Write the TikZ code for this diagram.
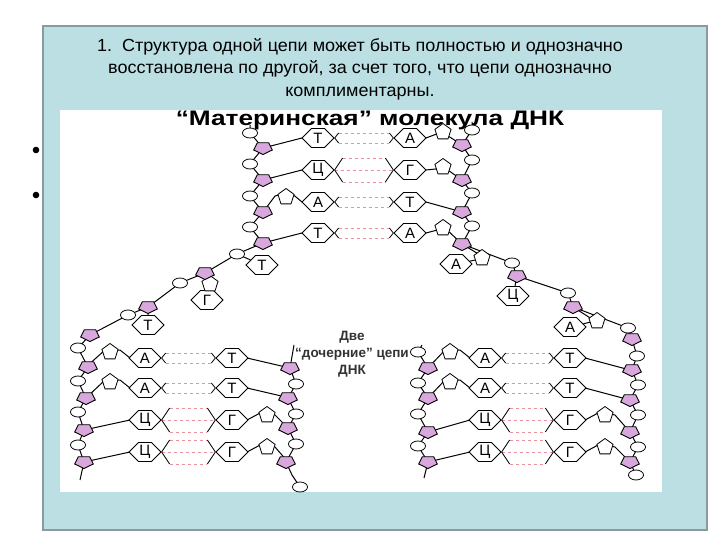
\documentclass[tikz,border=0pt]{standalone}
\usepackage{fontspec}
\setmainfont{Liberation Sans}
\usetikzlibrary{shapes.symbols,shapes.geometric,calc}
\definecolor{slide}{HTML}{BBDFE3}
\definecolor{frame}{HTML}{8A9A9E}
\definecolor{sug}{HTML}{D8A8DC}
\definecolor{hb}{HTML}{E8909E}
\tikzset{
  sugar/.style={regular polygon,regular polygon sides=5,shape border rotate=180,draw,fill=sug,inner sep=0pt,minimum size=13pt,line width=0.9pt,xscale=1.5},
  phos/.style={ellipse,draw,fill=white,inner sep=0pt,minimum width=15pt,minimum height=10pt,line width=0.8pt},
  base/.style={signal,signal to=east and west,draw,fill=white,inner sep=0.5pt,minimum width=32pt,minimum height=19pt,line width=0.9pt,font=\fontsize{15}{15}\selectfont},
  purp/.style={regular polygon,regular polygon sides=5,draw,fill=white,inner sep=0pt,minimum size=17pt,line width=0.8pt},
  bb/.style={line width=1pt},
  hbond/.style={hb,dashed,line width=0.9pt},
}
\newcommand\Bb[1]{\draw[bb] plot coordinates {#1};}
\newcommand\Rung[6]{%
  \node[base] (bl) at (#2,#1) {#4};
  \node[base] (br) at (#3,#1) {#5};
  \ifnum#6=2
    \draw[hbond] ($(bl.east)+(4,-5)$) -- ($(br.west)+(-4,-5)$);
    \draw[hbond] ($(bl.east)+(4,5)$) -- ($(br.west)+(-4,5)$);
    \draw[line width=0.8pt] (bl.east) -- ++(4,-5) (bl.east) -- ++(4,5) (br.west) -- ++(-4,-5) (br.west) -- ++(-4,5);
  \else
    \draw[hbond] ($(bl.east)+(8,-12)$) -- ($(br.west)+(-8,-12)$);
    \draw[hbond] ($(bl.east)+(0,0)$) -- ($(br.west)+(0,0)$);
    \draw[hbond] ($(bl.east)+(8,12)$) -- ($(br.west)+(-8,12)$);
    \draw[line width=0.8pt] (bl.east) -- ++(8,-12) (bl.east) -- ++(8,12) (br.west) -- ++(-8,-12) (br.west) -- ++(-8,12);
  \fi}
\begin{document}
\begin{tikzpicture}[x=1pt,y=-1pt]
\useasboundingbox (0,0) rectangle (720,540);
\fill[white] (0,0) rectangle (720,540);
\draw[frame,fill=slide,line width=1.2pt] (43,26) rectangle (707,530);
\fill[white] (60,110) rectangle (662,492);
\fill (36,150) circle (3.3) (36,195) circle (3.3);
\node[align=center,font=\fontsize{17.5}{22.5}\selectfont,inner sep=0pt,xscale=1.03] (title) at (360,69)
 {1.\ \ Структура одной цепи может быть полностью и однозначно\\ восстановлена по другой, за счет того, что цепи однозначно\\ комплиментарны.};
\begin{scope}
\clip (60,110) rectangle (662,492);
\node[font=\bfseries\fontsize{21}{21}\selectfont,inner sep=0pt,xscale=1.25] (mat) at (370,120) {“Материнская” молекула ДНК};
\end{scope}
\Bb{(250,125) (250,133) (263,148) (250,164) (263,180) (250,196) (263,212) (250,227) (263,243) (237,254) (205,273) (180,283) (148,307) (128,315) (90,335) (78,348) (88,367) (78,381) (86,398) (78,412) (84,430) (78,445) (84,462) (80,480)}
\Bb{(472,122) (472,130) (462,145) (472,160) (462,180) (472,193) (462,212) (472,226) (462,244) (512,263) (517,276) (568,293) (573,307) (628,328) (632,339) (637,356) (632,370) (638,385) (630,400) (638,415) (630,432) (638,447) (630,462) (636,475)}
\Bb{(294,345) (290,368) (296,384) (288,398) (296,414) (288,428) (296,444) (286,462) (292,475) (300,487)}
\Bb{(422,345) (418,352) (428,368) (418,383) (428,398) (418,414) (428,432) (418,446) (428,462) (424,478)}
\Rung{138}{318}{410}{Т}{А}{2}
\Rung{170}{318}{410}{Ц}{Г}{3}
\Rung{202}{318}{410}{А}{Т}{2}
\Rung{233}{318}{410}{Т}{А}{2}
\Rung{358}{145}{232}{А}{Т}{2}
\Rung{388}{145}{232}{А}{Т}{2}
\Rung{420}{145}{232}{Ц}{Г}{3}
\Rung{452}{145}{232}{Ц}{Г}{3}
\Rung{358}{485}{570}{А}{Т}{2}
\Rung{388}{485}{570}{А}{Т}{2}
\Rung{420}{485}{570}{Ц}{Г}{3}
\Rung{452}{485}{570}{Ц}{Г}{3}
\draw[bb] (263,148) -- (302,138) (263,180) -- (302,170) (263,212) -- (275,196) -- (290,192) -- (302,202) (263,243) -- (302,233);
\node[purp] (pp1) at (286,197) {};
\draw[bb] (462,145) -- (442,132) -- (426,138) (462,180) -- (445,168) -- (426,170) (462,212) -- (426,202) (462,244) -- (445,228) -- (426,233);
\node[purp] (pp2) at (443,132) {}; \node[purp] (pp3) at (443,167) {}; \node[purp] (pp4) at (443,228) {};
\node[base] (u1) at (262,265) {Т}; \draw[bb] (237,254) -- (u1);
\node[base] (u2) at (207,300) {Г}; \draw[bb] (205,273) -- (u2); \node[purp] (up2) at (210,284) {};
\node[base] (u3) at (148,325) {Т}; \draw[bb] (148,307) -- (u3);
\node[base] (u4) at (456,264) {А}; \draw[bb] (462,244) -- (485,258) -- (u4); \node[purp] (up4) at (482,258) {};
\node[base] (u5) at (513,296) {Ц}; \draw[bb] (517,276) -- (u5);
\node[base] (u6) at (570,327) {А}; \draw[bb] (573,307) -- (595,321) -- (u6); \node[purp] (up6) at (597,321) {};
\foreach \y/\s in {358/367,388/398} {\draw[bb] (86,\s) -- (105,\y-8) -- (120,\y-8) -- (130,\y); \node[purp] at (110,\y-6) {};}
\foreach \y/\s in {420/430,452/462} \draw[bb] (84,\s) -- (130,\y);
\foreach \y/\s in {358/368,388/398} \draw[bb] (247,\y) -- (290,\s);
\foreach \y/\s in {420/428,452/462} {\draw[bb] (247,\y) -- (262,\y-8) -- (275,\y-5) -- (288,\s); \node[purp] at (267,\y-5) {};}
\foreach \y/\s in {358/368,388/398} {\draw[bb] (428,\s) -- (445,\y-8) -- (460,\y-8) -- (470,\y); \node[purp] at (450,\y-6) {};}
\foreach \y/\s in {420/432,452/462} \draw[bb] (428,\s) -- (470,\y);
\foreach \y/\s in {358/370,388/400} \draw[bb] (585,\y) -- (630,\s);
\foreach \y/\s in {420/432,452/462} {\draw[bb] (585,\y) -- (600,\y-8) -- (615,\y-5) -- (630,\s); \node[purp] at (605,\y-5) {};}
\foreach \p in {(263,148),(263,180),(263,212),(263,243),(205,273),(148,307),(90,335),(88,367),(86,398),(84,430),(84,462),
  (462,145),(462,180),(462,212),(462,244),(517,276),(573,307),(632,339),(632,370),(630,400),(630,432),(630,462),
  (290,368),(288,398),(288,428),(286,462),(428,368),(428,398),(428,432),(428,462)}
  \node[sugar] at \p {};
\foreach \p in {(250,133),(250,164),(250,196),(250,227),(237,254),(180,283),(128,315),(78,348),(78,381),(78,412),(78,445),
  (472,130),(472,160),(472,193),(472,226),(512,263),(568,293),(628,328),(637,356),(638,385),(638,415),(638,447),(636,475),
  (296,384),(296,414),(296,444),(300,487),(418,352),(418,383),(418,414),(418,446)}
  \node[phos] at \p {};
\node[align=center,font=\bfseries\fontsize{13.5}{17}\selectfont,text=black!80,inner sep=0pt] (two) at (352,354) {Две\\“дочерние” цепи\\ДНК};
\end{tikzpicture}
\end{document}
